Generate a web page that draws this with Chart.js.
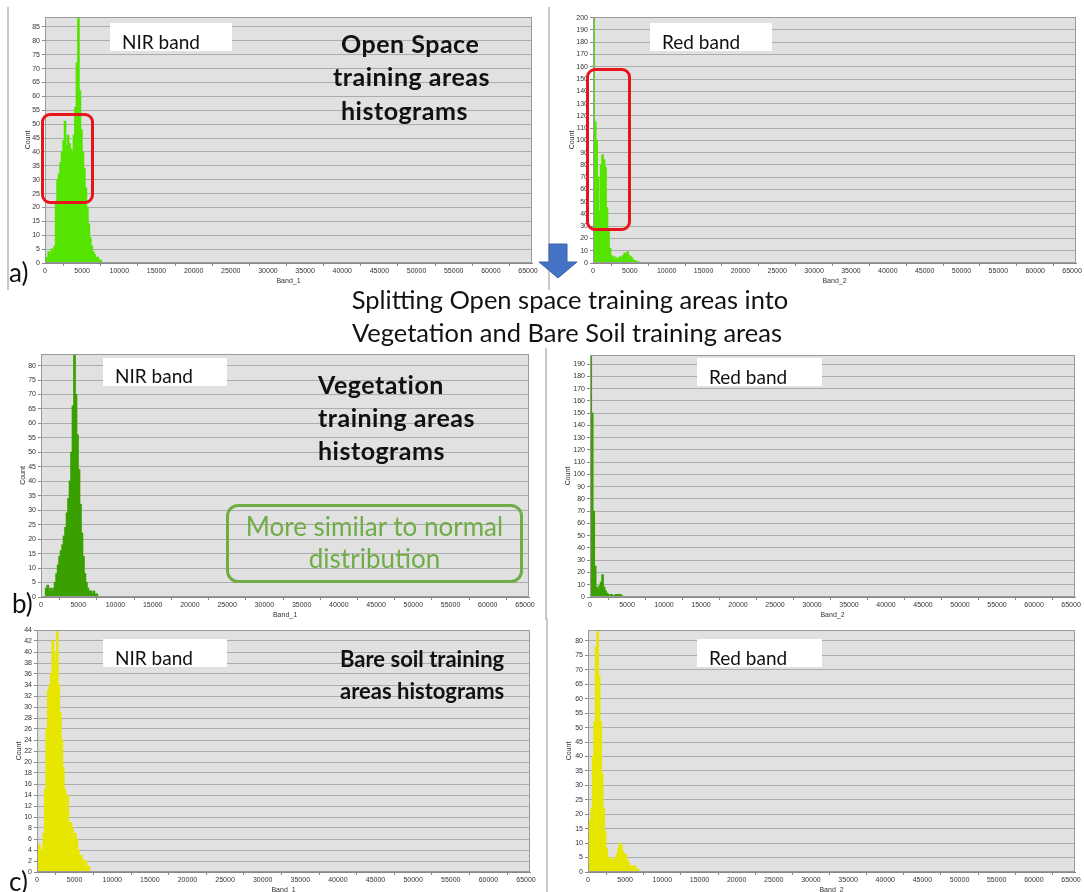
<!DOCTYPE html>
<html><head><meta charset="utf-8">
<script src="https://cdn.jsdelivr.net/npm/chart.js@4"></script>
<style>
body{margin:0;width:1084px;height:892px;background:#fff;position:relative;overflow:hidden;font-family:Lato,sans-serif}
canvas{position:absolute}
.box{position:absolute;background:#fff;font-size:19px;line-height:1;color:#111;padding-left:12px;box-sizing:border-box;white-space:nowrap;z-index:2}
.ttl{position:absolute;font-weight:bold;font-size:25px;letter-spacing:0.5px;line-height:1;color:#111;white-space:nowrap;z-index:2}
.ttl2{position:absolute;font-weight:bold;font-size:22px;line-height:1;color:#111;white-space:nowrap;z-index:2}
.txt{position:absolute;font-size:25.5px;line-height:1;white-space:nowrap;z-index:2}
.rbox{position:absolute;border:3px solid #e8141b;border-radius:9px;box-sizing:border-box;z-index:3}
.sep{position:absolute;width:2px;background:#c8c8c8}
</style>
</head><body>
<script>
// ---- data (bin counts, bins of 200 starting at 0) ----
const binWidth = 200;
const openNir = [0,2,4,3,5,4,6,22,30,32,36,40,44,51,42,46,43,41,40,46,56,72,88,62,48,40,34,27,20,14,9,6,4,3,2,2,1,1,0];
const openRed = [200,115,100,70,42,80,88,84,78,45,28,12,6,4,5,3,4,3,5,4,6,8,7,9,6,5,4,2,2,1,1,0];
const vegNir  = [0,0,0,3,4,2,3,2,3,5,8,11,14,16,18,21,24,29,34,40,50,66,84,70,56,44,32,22,14,8,5,3,2,2,1,2,1,1,0];
const vegRed  = [197,150,70,25,8,6,9,12,18,8,5,3,2,1,2,1,1,2,2,2,2,1,0];
const soilNir = [4,5,4,4,7,15,26,33,34,36,42,40,37,44,34,29,24,19,15,11,14,9,9,8,6,7,6,4,3,3,2,2,2,1,1,0];
const soilRed = [16,18,22,40,52,78,84,68,52,34,22,14,8,5,4,5,3,4,5,6,8,10,9,7,6,6,4,3,2,2,2,2,1,1,0];
const xMax = 65535;
const xTickValues = [0,5000,10000,15000,20000,25000,30000,35000,40000,45000,50000,55000,60000,65000];
const yTitle = 'Count';
const xTitles = ['Band_1','Band_2'];

const areaPlugin = {
  id:'area',
  beforeDraw(c){const a=c.chartArea,ctx=c.ctx;ctx.save();ctx.fillStyle='#e1e1e1';ctx.fillRect(a.left,a.top,a.right-a.left,a.bottom-a.top);ctx.restore();},
  afterDraw(c){const a=c.chartArea,ctx=c.ctx;ctx.save();ctx.strokeStyle='#9a9a9a';ctx.lineWidth=1;ctx.strokeRect(a.left+0.5,a.top+0.5,a.right-a.left-1,a.bottom-a.top-1);ctx.restore();}
};

function panel(values, color, yMax, yStep, xTitle, cx, L, T, R, B){
  const cv=document.createElement('canvas');
  const top=T-8, w=R+10-cx, h=B+22-top;
  cv.width=w;cv.height=h;cv.style.left=cx+'px';cv.style.top=top+'px';cv.style.width=w+'px';cv.style.height=h+'px';
  document.body.appendChild(cv);
  const pts=values.map((v,i)=>({x:i*binWidth+binWidth/2,y:v}));
  const font={family:'Liberation Sans, Arial, sans-serif',size:7};
  new Chart(cv,{type:'bar',
    data:{datasets:[{data:pts,backgroundColor:color,borderWidth:0,barPercentage:1,categoryPercentage:1,inflateAmount:0.6}]},
    options:{responsive:false,animation:false,devicePixelRatio:1,
      layout:{padding:{top:8,right:10,left:0,bottom:0}},
      plugins:{legend:{display:false},tooltip:{enabled:false}},
      scales:{
        x:{type:'linear',min:0,max:xMax,offset:false,
          afterBuildTicks:s=>{s.ticks=xTickValues.map(v=>({value:v}));},
          afterFit:s=>{s.height=22;},
          ticks:{font,color:'#333',padding:1,maxRotation:0,autoSkip:false,callback:v=>String(v)},
          grid:{drawOnChartArea:false,drawTicks:true,tickLength:3,color:'#888'},
          border:{display:true,color:'#888'},
          title:{display:true,text:xTitle,font,color:'#333',padding:{top:1,bottom:0}}},
        y:{min:0,max:yMax,
          afterFit:s=>{s.width=L-cx;},
          ticks:{stepSize:yStep,includeBounds:false,maxTicksLimit:40,font,color:'#333',padding:2,autoSkip:false},
          grid:{color:'#acacac',lineWidth:1,tickLength:3,tickColor:'#888'},
          border:{display:true,color:'#888'},
          title:{display:true,text:yTitle,font,color:'#333',padding:0}}
      }},
    plugins:[areaPlugin]});
}

panel(openNir,'#55e400',88.6,5,xTitles[0],24,45,17,532,263);
panel(openRed,'#55e400',200.6,10,xTitles[1],568,593,17,1076,263);
panel(vegNir,'#3aa000',84,5,xTitles[0],19,41,354,529,597);
panel(vegRed,'#3aa000',197.5,10,xTitles[1],564,590,355,1075,597);
panel(soilNir,'#e6e600',44,2,xTitles[0],15,37,630,530,872);
panel(soilRed,'#e6e600',83.8,5,xTitles[1],565,588,630,1075,872);
</script>

<div class="sep" style="left:7px;top:7px;height:283px"></div>
<div class="sep" style="left:548px;top:7px;height:283px"></div>
<div class="sep" style="left:545px;top:348px;height:272px"></div>
<div class="sep" style="left:546px;top:618px;height:274px"></div>

<div class="box" style="left:110px;top:23px;width:122px;height:28px;padding-top:9px">NIR band</div>
<div class="box" style="left:650px;top:23px;width:122px;height:28px;padding-top:9px">Red band</div>
<div class="box" style="left:103px;top:358px;width:124px;height:28px;padding-top:8px">NIR band</div>
<div class="box" style="left:697px;top:358px;width:125px;height:28px;padding-top:9px">Red band</div>
<div class="box" style="left:103px;top:639px;width:124px;height:28px;padding-top:9px">NIR band</div>
<div class="box" style="left:697px;top:639px;width:125px;height:28px;padding-top:9px">Red band</div>

<div class="ttl" style="left:341px;top:31px">Open Space</div>
<div class="ttl" style="left:333px;top:64px">training areas</div>
<div class="ttl" style="left:341px;top:98px">histograms</div>

<div class="ttl" style="left:318px;top:372px">Vegetation</div>
<div class="ttl" style="left:318px;top:405px">training areas</div>
<div class="ttl" style="left:318px;top:438px">histograms</div>

<div class="ttl2" style="left:340px;top:648px">Bare soil training</div>
<div class="ttl2" style="left:340px;top:680px">areas histograms</div>

<div class="rbox" style="left:41px;top:113px;width:53px;height:91px"></div>
<div class="rbox" style="left:586px;top:68px;width:45px;height:163px"></div>

<div style="position:absolute;left:226px;top:504px;width:297px;height:79px;border:3px solid #70ad47;border-radius:12px;box-sizing:border-box;z-index:2"></div>
<div class="txt" style="left:226px;width:297px;text-align:center;top:513px;font-size:26px;color:#70ad47">More similar to normal</div>
<div class="txt" style="left:226px;width:297px;text-align:center;top:545px;font-size:26px;color:#70ad47">distribution</div>

<svg style="position:absolute;left:537px;top:242px;z-index:3" width="44" height="40">
<polygon points="12,2 30,2 30,20 40,20 21,36 2,20 12,20" fill="#4472c4" stroke="#3a62a8" stroke-width="1"/>
</svg>

<div class="txt" style="left:270px;width:600px;text-align:center;top:287px;color:#111">Splitting Open space training areas into</div>
<div class="txt" style="left:267px;width:600px;text-align:center;top:320px;color:#111">Vegetation and Bare Soil training areas</div>

<div class="txt" style="left:9px;top:259px;font-size:26px;color:#111">a)</div>
<div class="txt" style="left:12px;top:590px;font-size:26px;color:#111">b)</div>
<div class="txt" style="left:9px;top:868px;font-size:26px;color:#111">c)</div>
</body></html>
